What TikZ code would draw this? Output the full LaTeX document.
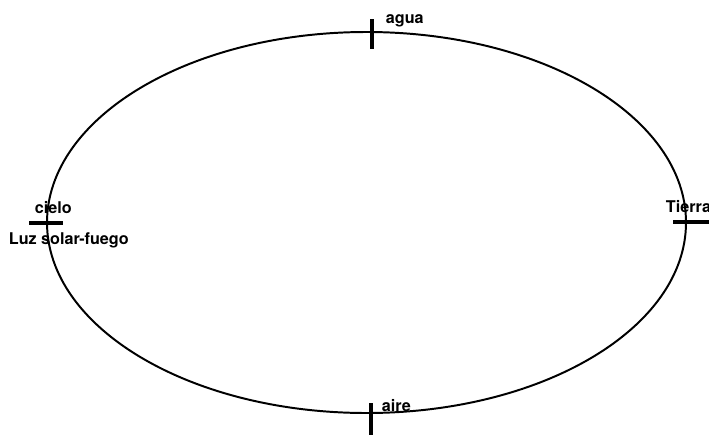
\documentclass[tikz,border=0pt]{standalone}
\usepackage{fontspec}
\setsansfont{TeX Gyre Heros}
\usetikzlibrary{positioning}

\begin{document}
\begin{tikzpicture}[x=0.025cm, y=-0.025cm, line width=1.4pt]
  \tikzset{
    tickmark/.style={line width=3pt},
    lbl/.style={font=\sffamily\bfseries\fontsize{11.5}{13}\selectfont, inner sep=0pt, anchor=base west}
  }
  \useasboundingbox (0,0) rectangle (709,435);
  % Draw orbit
  \draw (366.5,222.5) ellipse [x radius=319.5, y radius=190.5];
  % Tick marks on the orbit
  \draw[tickmark] (372,19) -- (372,49);
  \draw[tickmark] (371,403) -- (371,435);
  \draw[tickmark] (29,223) -- (63,223);
  \draw[tickmark] (673,222) -- (709,222);
  % Labels
  \node[lbl] (agua) at (385,23) {agua};
  \node[lbl] (aire) at (381,411) {aire};
  \node[lbl] (cielo) at (34,213) {cielo};
  \node[lbl] (luz) at (8,244) {Luz solar-fuego};
  \node[lbl] (tierra) at (665,212) {Tierra};
\end{tikzpicture}
\end{document}
